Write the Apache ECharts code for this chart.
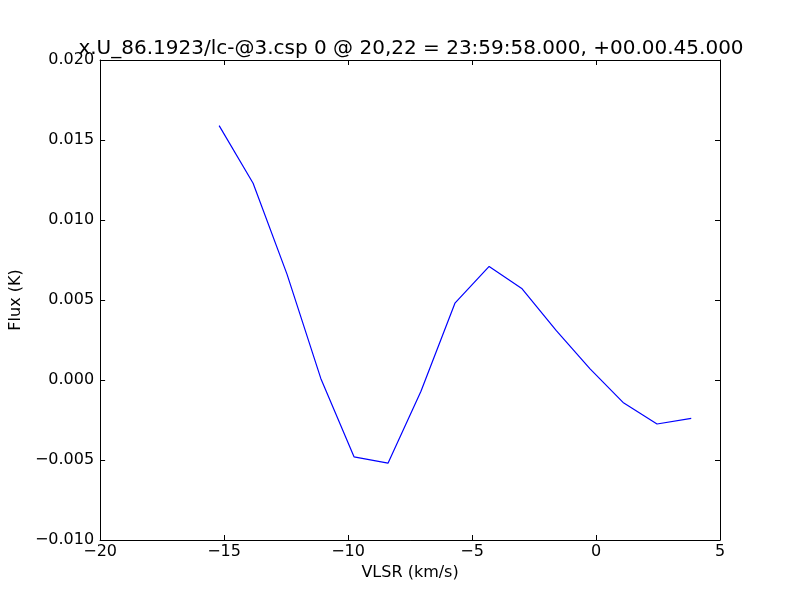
<!DOCTYPE html>
<html>
<head>
<meta charset="utf-8">
<script src="https://cdn.jsdelivr.net/npm/echarts@6/dist/echarts.min.js"></script>
<style>html,body{margin:0;padding:0;background:#fff}#c{width:800px;height:600px}</style>
</head>
<body>
<div id="c"></div>
<script>
var velocities = [-15.2, -13.83, -12.46, -11.1, -9.76, -8.39, -7.06, -5.69, -4.31, -2.98, -1.61, -0.24, 1.09, 2.46, 3.84];
var flux = [0.0159, 0.0123, 0.0066, 0.0001, -0.0048, -0.0052, -0.0007, 0.0048, 0.0071, 0.0057, 0.0031, 0.0007, -0.0014, -0.00275, -0.0024];
var titleText = 'x.U_86.1923/lc-@3.csp 0 @ 20,22 = 23:59:58.000, +00.00.45.000';
var xLabel = 'VLSR (km/s)';
var yLabel = 'Flux (K)';

var font = 'DejaVu Sans';
function minus(s){ return String(s).replace('-', '\u2212'); }
var pts = velocities.map(function(v,i){ return [v, flux[i]]; });

var chart = echarts.init(document.getElementById('c'));
var baseX = {
  type:'value', min:-20, max:5, interval:5,
  axisLine:{show:true, onZero:false, lineStyle:{color:'#000', width:1}},
  axisTick:{show:true, inside:true, length:5, lineStyle:{color:'#000'}},
  splitLine:{show:false}
};
var baseY = {
  type:'value', min:-0.01, max:0.02, interval:0.005,
  axisLine:{show:true, onZero:false, lineStyle:{color:'#000', width:1}},
  axisTick:{show:true, inside:true, length:5, lineStyle:{color:'#000'}},
  splitLine:{show:false}
};
chart.setOption({
  animation:false,
  backgroundColor:'#fff',
  title:{text:titleText, left:406, textAlign:'center', top:34,
    textStyle:{fontFamily:font, fontSize:20, fontWeight:'normal', color:'#000'}},
  grid:{left:100, right:80, top:60, bottom:60},
  xAxis:[
    Object.assign({}, baseX, {position:'bottom', name:xLabel, nameLocation:'middle', nameGap:24,
      nameTextStyle:{fontFamily:font, fontSize:16, color:'#000'},
      axisLabel:{show:true, margin:4, fontFamily:font, fontSize:16, color:'#000',
        formatter:function(v){ return minus(v); }}}),
    Object.assign({}, baseX, {position:'top', axisLabel:{show:false}})
  ],
  yAxis:[
    Object.assign({}, baseY, {position:'left', name:yLabel, nameLocation:'middle', nameGap:67,
      nameTextStyle:{fontFamily:font, fontSize:16, color:'#000'},
      axisLabel:{show:true, margin:6, fontFamily:font, fontSize:16, color:'#000',
        formatter:function(v){ return minus(v.toFixed(3)); }}}),
    Object.assign({}, baseY, {position:'right', axisLabel:{show:false}})
  ],
  series:[{
    type:'line', data:pts, xAxisIndex:0, yAxisIndex:0,
    showSymbol:false, symbol:'none',
    lineStyle:{color:'#0000ff', width:1.2}
  }]
});
</script>
</body>
</html>
